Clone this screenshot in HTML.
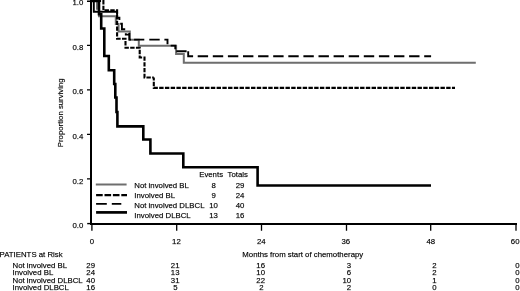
<!DOCTYPE html>
<html><head><meta charset="utf-8">
<style>
html,body{margin:0;padding:0;background:#fff;}
svg{display:block;}
text{font-family:"Liberation Sans",sans-serif;font-size:7.8px;fill:#000;stroke:#000;stroke-width:0.25px;stroke-opacity:0.6;}
svg{filter:grayscale(1);}
</style></head>
<body>
<svg width="520" height="291" viewBox="0 0 520 291">
<rect width="520" height="291" fill="#fff"/>
<!-- axes -->
<g stroke="#000" fill="none">
<path d="M91,0 V224.5" stroke-width="2"/>
<path d="M90,224 H517" stroke-width="2"/>
<g stroke-width="1">
<path d="M87,1.2 H91 M87,45.4 H91 M87,89.9 H91 M87,134.4 H91 M87,178.9 H91" stroke-width="1.4"/>
<path d="M91.9,224 V230.7 M176.7,224 V230.7 M261.5,224 V230.7 M346.5,224 V230.7 M430.7,224 V230.7 M516,224 V230.7" stroke-width="1.3"/>
<path d="M516,223 V224"/>
<path d="M87.2,223.6 H91" stroke-width="1.4"/>
</g>
</g>
<!-- y labels -->
<g text-anchor="end">
<text x="83.3" y="5.3">1.0</text>
<text x="83.3" y="49.5">0.8</text>
<text x="83.3" y="94.3">0.6</text>
<text x="83.3" y="138.9">0.4</text>
<text x="83.3" y="183.5">0.2</text>
<text x="83.3" y="227.8">0.0</text>
</g>
<text transform="translate(63,112.8) rotate(-90)" text-anchor="middle">Proportion surviving</text>
<!-- x labels -->
<g text-anchor="middle">
<text x="91.8" y="243.9">0</text>
<text x="176.4" y="243.9">12</text>
<text x="261.3" y="243.9">24</text>
<text x="345.8" y="243.9">36</text>
<text x="430.8" y="243.9">48</text>
<text x="515.2" y="243.9">60</text>
</g>
<text x="242.3" y="256.8">Months from start of chemotherapy</text>
<text x="-0.4" y="257.2">PATIENTS at Risk</text>
<!-- at risk table -->
<g>
<text x="12.5" y="268.3">Not involved BL</text>
<text x="12.5" y="275.3">Involved BL</text>
<text x="12.5" y="282.5">Not involved DLBCL</text>
<text x="12.5" y="290">Involved DLBCL</text>
</g>
<g text-anchor="end">
<text x="95" y="268.3">29</text><text x="95" y="275.3">24</text><text x="95" y="282.5">40</text><text x="95" y="290">16</text>
<text x="179.5" y="268.3">21</text><text x="179.5" y="275.3">13</text><text x="179.5" y="282.5">31</text><text x="177.6" y="290">5</text>
<text x="265" y="268.3">16</text><text x="265" y="275.3">10</text><text x="265" y="282.5">22</text><text x="263.5" y="290">2</text>
<text x="351.1" y="268.3">3</text><text x="351.1" y="275.3">6</text><text x="351.1" y="282.5">10</text><text x="351.1" y="290">2</text>
<text x="436.7" y="268.3">2</text><text x="436.7" y="275.3">2</text><text x="436.7" y="282.5">1</text><text x="436.7" y="290">0</text>
</g>
<g>
<text x="515.2" y="268.3">0</text><text x="515.2" y="275.3">0</text><text x="515.2" y="282.5">0</text><text x="515.2" y="290">0</text>
</g>
<!-- legend -->
<g fill="none">
<path d="M95.8,184.5 H126.6" stroke="#6e6e6e" stroke-width="2"/>
<path d="M96.1,195.2 H127" stroke="#000" stroke-width="2.2" stroke-dasharray="6.6 1.8"/>
<path d="M96.1,203.8 H121.3" stroke="#000" stroke-width="1.8" stroke-dasharray="10.7 5"/>
<path d="M96.1,212.4 H127" stroke="#000" stroke-width="2.7"/>
</g>
<text x="199.2" y="176.9">Events</text>
<text x="227.6" y="176.9">Totals</text>
<text x="134.3" y="188">Not involved BL</text>
<text x="134.3" y="197.8">Involved BL</text>
<text x="134.3" y="208.2">Not involved DLBCL</text>
<text x="134.3" y="218.3">Involved DLBCL</text>
<g text-anchor="middle">
<text x="213.6" y="188">8</text><text x="213.6" y="197.8">9</text><text x="213.6" y="208.2">10</text><text x="213.6" y="218.3">13</text>
<text x="240.1" y="188">29</text><text x="240.1" y="197.8">24</text><text x="240.1" y="208.2">40</text><text x="240.1" y="218.3">16</text>
</g>
<!-- curves -->
<g fill="none" stroke-linejoin="miter" stroke-linecap="butt">
<path d="M91,1 H97 V8.7 H99 V16.3 H115.8 V24 H118.6 V31.6 H129.8 V39.8 H138.8 V45.8 H176.1 V54 H183.8 V62.8 H475.8" stroke="#6e6e6e" stroke-width="2"/>
<g stroke="#000" stroke-width="1.9" stroke-dasharray="10.4 4.7">
<path d="M91,1 H93.8 V11.8 H117.1" stroke-dasharray="none"/>
<path d="M117.1,11.8 V17.8 H119.4 V23.8 H121.9 V29.2 H125.8 V34.6 H129.3"/>
</g>
<g stroke="#000" stroke-width="1.9">
<path d="M129.3,33 V39.6 H131 M134.1,39.6 H144.3 M149.3,39.6 H159.7 M164.4,39.6 H167.5 V44.3 M170.7,45.6 H175.3 V49.3 M176.3,51.2 H186.6 M188.2,51.2 V56.2 H193.1"/>
<path d="M197.7,56.2 H431.1" stroke-dasharray="10.4 4.7"/>
</g>
<g stroke="#000" stroke-width="2.1" stroke-dasharray="4.4 1.34">
<path d="M91,1 H103.4 V10.3 H117.1 V38.8 H125.5 V47.8 H139.7 V57.5 H144.5 V77.5 H153.8" stroke-dashoffset="0.1"/>
<path d="M153.8,77.5 V87.9 H455" stroke-dashoffset="1.42"/>
</g>
<path d="M91,1 H99 V14.3 H101.2 V28.5 H104.3 V56 H108.8 V70.3 H114.2 V84 H115.3 V97.5 H116.5 V112 H117.4 V126.4 H143.3 V139.5 H150.4 V153.5 H183.3 V167.2 H257.6 V185.5 H431" stroke="#000" stroke-width="2.6"/>
</g>
</svg>
</body></html>
